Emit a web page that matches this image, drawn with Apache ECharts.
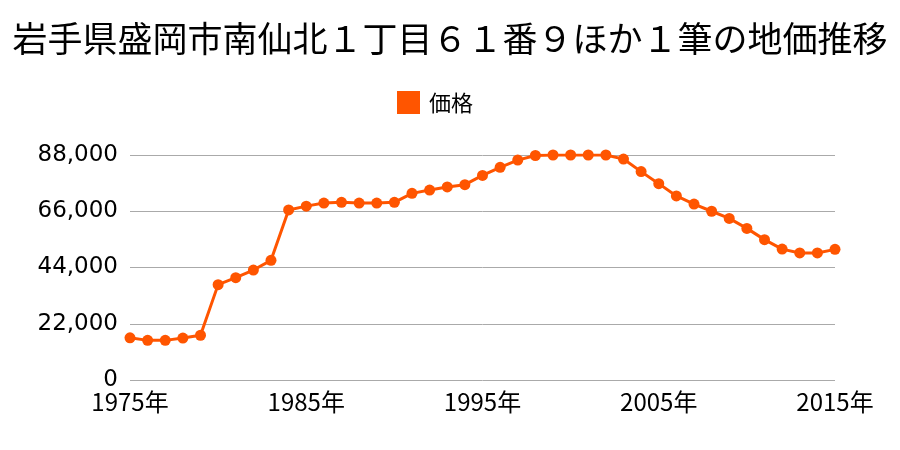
<!DOCTYPE html>
<html>
<head>
<meta charset="utf-8">
<script src="https://cdn.jsdelivr.net/npm/echarts@6/dist/echarts.min.js"></script>
<style>html,body{margin:0;padding:0;background:#fff;}#c{width:900px;height:450px;}</style>
</head>
<body>
<div id="c"></div>
<script>
const titleText = '岩手県盛岡市南仙北１丁目６１番９ほか１筆の地価推移';
const seriesName = '価格';
const years = [1975,1976,1977,1978,1979,1980,1981,1982,1983,1984,1985,1986,1987,1988,1989,1990,1991,1992,1993,1994,1995,1996,1997,1998,1999,2000,2001,2002,2003,2004,2005,2006,2007,2008,2009,2010,2011,2012,2013,2014,2015];
const prices = [16500,15500,15500,16400,17500,37300,40000,43000,46800,66500,68000,69200,69500,69200,69200,69500,73000,74300,75500,76400,80000,83200,86000,87800,88000,88000,88000,88000,86400,81500,76800,72000,68800,66000,63200,59300,54900,51200,49700,49700,51100];
const yTicks = [0,22000,44000,66000,88000];

const chart = echarts.init(document.getElementById('c'));
const font = '"Noto Sans CJK JP", "Noto Sans", sans-serif';
chart.setOption({
  animation: false,
  textStyle: {fontFamily: font},
  title: {
    text: titleText, left: 'center', top: 16,
    textStyle: {fontSize: 35, fontWeight: 'normal', color: '#000', fontFamily: font}
  },
  legend: {
    data: [seriesName], top: 86, left: 392,
    itemWidth: 23, itemHeight: 23, icon: 'rect', itemGap: 10,
    textStyle: {fontSize: 22, color: '#000', fontFamily: font, padding: [0, 0, 0, 4]}
  },
  grid: {left: 130, right: 65, top: 155, bottom: 70, containLabel: false},
  xAxis: {
    type: 'value', min: 1975, max: 2015, interval: 10,
    axisLine: {show: false}, axisTick: {show: false}, splitLine: {show: false},
    axisLabel: {formatter: v => v + '年', fontSize: 24, color: '#000', margin: 10, fontFamily: font}
  },
  yAxis: {
    type: 'value', min: yTicks[0], max: yTicks[yTicks.length-1], interval: 22000,
    axisLine: {show: false}, axisTick: {show: false},
    splitLine: {lineStyle: {color: '#aaaaaa', width: 1}},
    axisLabel: {
      fontSize: 23, color: '#000', margin: 12, fontFamily: '"DejaVu Sans", sans-serif',
      formatter: v => v.toLocaleString('en-US')
    }
  },
  series: [{
    name: seriesName, type: 'line',
    data: years.map((y, i) => [y, prices[i]]),
    symbol: 'circle', symbolSize: 11,
    itemStyle: {color: '#ff5500'},
    lineStyle: {color: '#ff5500', width: 3}
  }]
});
</script>
</body>
</html>
